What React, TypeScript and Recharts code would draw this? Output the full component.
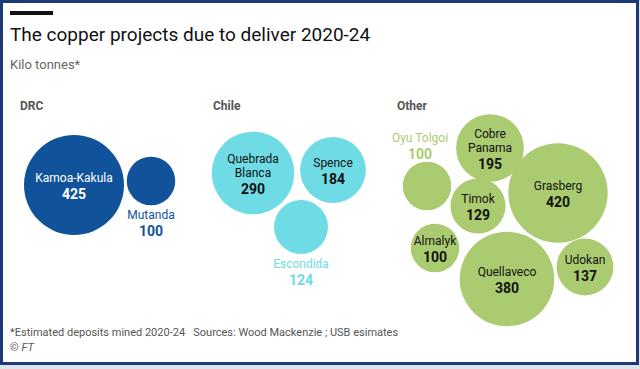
import { Scatter, ScatterChart, XAxis, YAxis, ZAxis } from "recharts";

// bubble layout data (x, y in a 640 x 369 grid) and sizes in kilo tonnes
const projects = ["Kamoa-Kakula", "Mutanda", "Quebrada Blanca", "Spence", "Escondida", "Oyu Tolgoi", "Cobre Panama", "Grasberg", "Timok", "Almalyk", "Quellaveco", "Udokan"];
const values = [425, 100, 290, 184, 124, 100, 195, 420, 129, 100, 380, 137];
const regions = ["DRC", "DRC", "Chile", "Chile", "Chile", "Other", "Other", "Other", "Other", "Other", "Other", "Other"];
const posX = [74, 151, 253, 333, 301, 427, 490, 558, 478, 435, 507, 585];
const posY = [185, 181, 173, 170, 227, 186, 148, 193, 206, 248, 279, 267];
const regionNames = ["DRC", "Chile", "Other"];

const colors: Record<string, string> = { DRC: "#11539a", Chile: "#6fdce5", Other: "#abcb70" };
const inkInside: Record<string, string> = { DRC: "#ffffff", Chile: "#111111", Other: "#111111" };
const lineBreaks: Record<string, string[]> = {
  "Quebrada Blanca": ["Quebrada", "Blanca"],
  "Cobre Panama": ["Cobre", "Panama"],
};
const outside: Record<string, { side: "below" | "above"; dx: number }> = {
  Mutanda: { side: "below", dx: 0 },
  Escondida: { side: "below", dx: 0 },
  "Oyu Tolgoi": { side: "above", dx: -7 },
};

const data = projects.map((name, i) => ({ name, value: values[i], region: regions[i], x: posX[i], y: posY[i] }));

const MAX_R = 50;
const FONT = "Roboto, 'Noto Sans', sans-serif";
const NAME_SIZE = 12;
const VALUE_SIZE = 14;
const LINE = 14;
const GAP = 16;

function Bubble(props: any) {
  const { cx, cy, payload } = props;
  const r = props.size != null ? Math.sqrt(props.size / Math.PI) : props.width / 2;
  const col = colors[payload.region];
  const out = outside[payload.name];
  const lines = lineBreaks[payload.name] || [payload.name];
  let texts;
  if (out) {
    const tx = cx + out.dx;
    const y1 = out.side === "below" ? cy + r + 10 : cy - r - 24;
    texts = (
      <g fill={col} textAnchor="middle" fontFamily={FONT}>
        <text x={tx} y={y1} dominantBaseline="central" fontSize={NAME_SIZE}>{payload.name}</text>
        <text x={tx} y={y1 + GAP} dominantBaseline="central" fontSize={VALUE_SIZE} fontWeight={700}>{payload.value}</text>
      </g>
    );
  } else {
    const start = cy - (LINE * (lines.length - 1) + GAP) / 2 + 1;
    texts = (
      <g fill={inkInside[payload.region]} textAnchor="middle" fontFamily={FONT}>
        {lines.map((l, k) => (
          <text key={k} x={cx} y={start + k * LINE} dominantBaseline="central" fontSize={NAME_SIZE}>{l}</text>
        ))}
        <text x={cx} y={start + LINE * (lines.length - 1) + GAP} dominantBaseline="central" fontSize={VALUE_SIZE} fontWeight={700}>{payload.value}</text>
      </g>
    );
  }
  return (
    <g>
      <circle cx={cx} cy={cy} r={r} fill={col} />
      {texts}
    </g>
  );
}

export default function App() {
  return (
    <div style={{ position: "absolute", left: 0, top: 0, width: 640, height: 369, background: "#dfe4ec", fontFamily: FONT }}>
      <div style={{ position: "absolute", left: 0, top: 0, width: 639, height: 365, boxSizing: "border-box", border: "3px solid #1c3a78", background: "#ffffff" }} />
      <div style={{ position: "absolute", left: 10, top: 11, width: 43, height: 4, background: "#111" }} />
      <div style={{ position: "absolute", left: 10, top: 23, fontSize: 19, color: "#111", lineHeight: "24px" }}>The copper projects due to deliver 2020-24</div>
      <div style={{ position: "absolute", left: 10, top: 57, fontSize: 13, color: "#666", lineHeight: "16px" }}>Kilo tonnes*</div>
      <div style={{ position: "absolute", left: 10, top: 326, fontSize: 11, color: "#555", lineHeight: "14px", whiteSpace: "pre" }}>*Estimated deposits mined 2020-24   Sources: Wood Mackenzie ; USB esimates</div>
      <div style={{ position: "absolute", left: 10, top: 341, fontSize: 11, color: "#555", lineHeight: "14px" }}>© <i>FT</i></div>
      {regionNames.map((rn, i) => (
        <div key={rn} style={{ position: "absolute", left: [20, 213, 397][i], top: 99, fontSize: 12, fontWeight: 700, color: "#555", lineHeight: "14px" }}>{rn}</div>
      ))}
      <div style={{ position: "absolute", left: 0, top: 0 }}>
        <ScatterChart width={640} height={369} margin={{ top: 0, right: 0, bottom: 0, left: 0 }}>
          <XAxis type="number" dataKey="x" domain={[0, 640]} hide />
          <YAxis type="number" dataKey="y" domain={[0, 369]} reversed hide />
          <ZAxis type="number" dataKey="value" domain={[0, 425]} range={[0, Math.PI * MAX_R * MAX_R]} />
          <Scatter data={data} shape={Bubble} isAnimationActive={false} />
        </ScatterChart>
      </div>
    </div>
  );
}
